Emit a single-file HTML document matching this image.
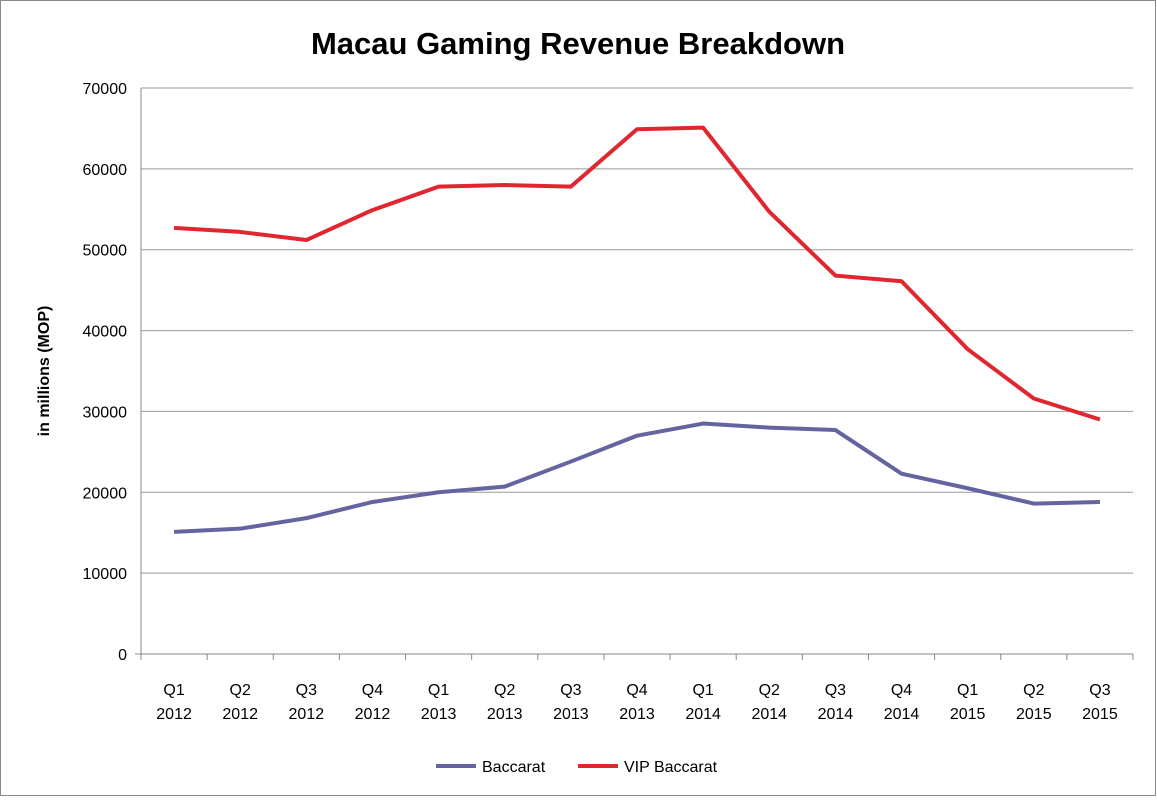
<!DOCTYPE html>
<html><head><meta charset="utf-8"><style>
body{margin:0;background:#fff;}
svg text{font-family:"Liberation Sans",Arial,sans-serif;fill:#000;}
</style></head><body>
<svg width="1157" height="797">
<rect x="0.5" y="0.5" width="1155" height="795" fill="#fff" stroke="#888"/>
<text x="578" y="54" text-anchor="middle" font-size="31" font-weight="bold">Macau Gaming Revenue Breakdown</text>
<text transform="translate(49,371) rotate(-90)" text-anchor="middle" font-size="16" font-weight="bold">in millions (MOP)</text>
<g id="grid"></g><g id="xaxis"></g><g id="series"></g>
<g>
<line x1="436" y1="766" x2="476" y2="766" stroke="#6464a0" stroke-width="4"/>
<text x="482" y="772" font-size="16">Baccarat</text>
<line x1="578" y1="766" x2="618" y2="766" stroke="#e0262f" stroke-width="4"/>
<text x="624" y="772" font-size="16">VIP Baccarat</text>
</g>
</svg>
<script>
const categories=["Q1|2012","Q2|2012","Q3|2012","Q4|2012","Q1|2013","Q2|2013","Q3|2013","Q4|2013","Q1|2014","Q2|2014","Q3|2014","Q4|2014","Q1|2015","Q2|2015","Q3|2015"];
const baccarat=[15100,15500,16800,18800,20000,20700,23800,27000,28500,28000,27700,22300,20500,18600,18800];
const vipBaccarat=[52700,52200,51200,54900,57800,58000,57800,64900,65100,54700,46800,46100,37700,31600,29000];
const yTicks=[0,10000,20000,30000,40000,50000,60000,70000];
const NS="http://www.w3.org/2000/svg";
const L=141,R=1133,T=88,B=654,yMax=70000;
const bw=(R-L)/categories.length;
const x=i=>L+bw*(i+0.5);
const y=v=>B-(v/yMax)*(B-T);
function mk(tag,attrs,parent,txt){const e=document.createElementNS(NS,tag);for(const k in attrs)e.setAttribute(k,attrs[k]);if(txt!=null)e.textContent=txt;parent.appendChild(e);return e;}
const grid=document.getElementById('grid');
yTicks.forEach(v=>{
  const ln=mk('line',{x1:v===0?L-6:L,x2:R,y1:y(v),y2:y(v),stroke:v===0?'#888':'#999','stroke-width':1},grid);
  
  
  const t=mk('text',{x:L-14,y:y(v)+6,'text-anchor':'end','font-size':16},grid,String(v));
  
  
});
mk('line',{x1:L,x2:L,y1:T,y2:B,stroke:'#888'},grid);
const xa=document.getElementById('xaxis');
categories.forEach((c,i)=>{
  const tk=mk('line',{x1:L+bw*(i+1),x2:L+bw*(i+1),y1:B,y2:B+6,stroke:'#888'},xa);
  
  
  const [q,yr]=c.split('|');
  const t=mk('text',{x:x(i),y:695,'text-anchor':'middle','font-size':16},xa);
  
  
  mk('tspan',{x:x(i),dy:0},t,q);mk('tspan',{x:x(i),dy:24},t,yr);
});
mk('line',{x1:L,x2:L,y1:B,y2:B+6,stroke:'#888'},xa);
const sg=document.getElementById('series');
[[baccarat,'#6464a0','line-baccarat'],[vipBaccarat,'#e0262f','line-vip-baccarat']].forEach(([d,c,n])=>{
  const p=mk('polyline',{points:d.map((v,i)=>x(i)+','+y(v)).join(' '),fill:'none',stroke:c,'stroke-width':4,'stroke-linejoin':'round'},sg);
  
  
});
</script>
</body></html>
